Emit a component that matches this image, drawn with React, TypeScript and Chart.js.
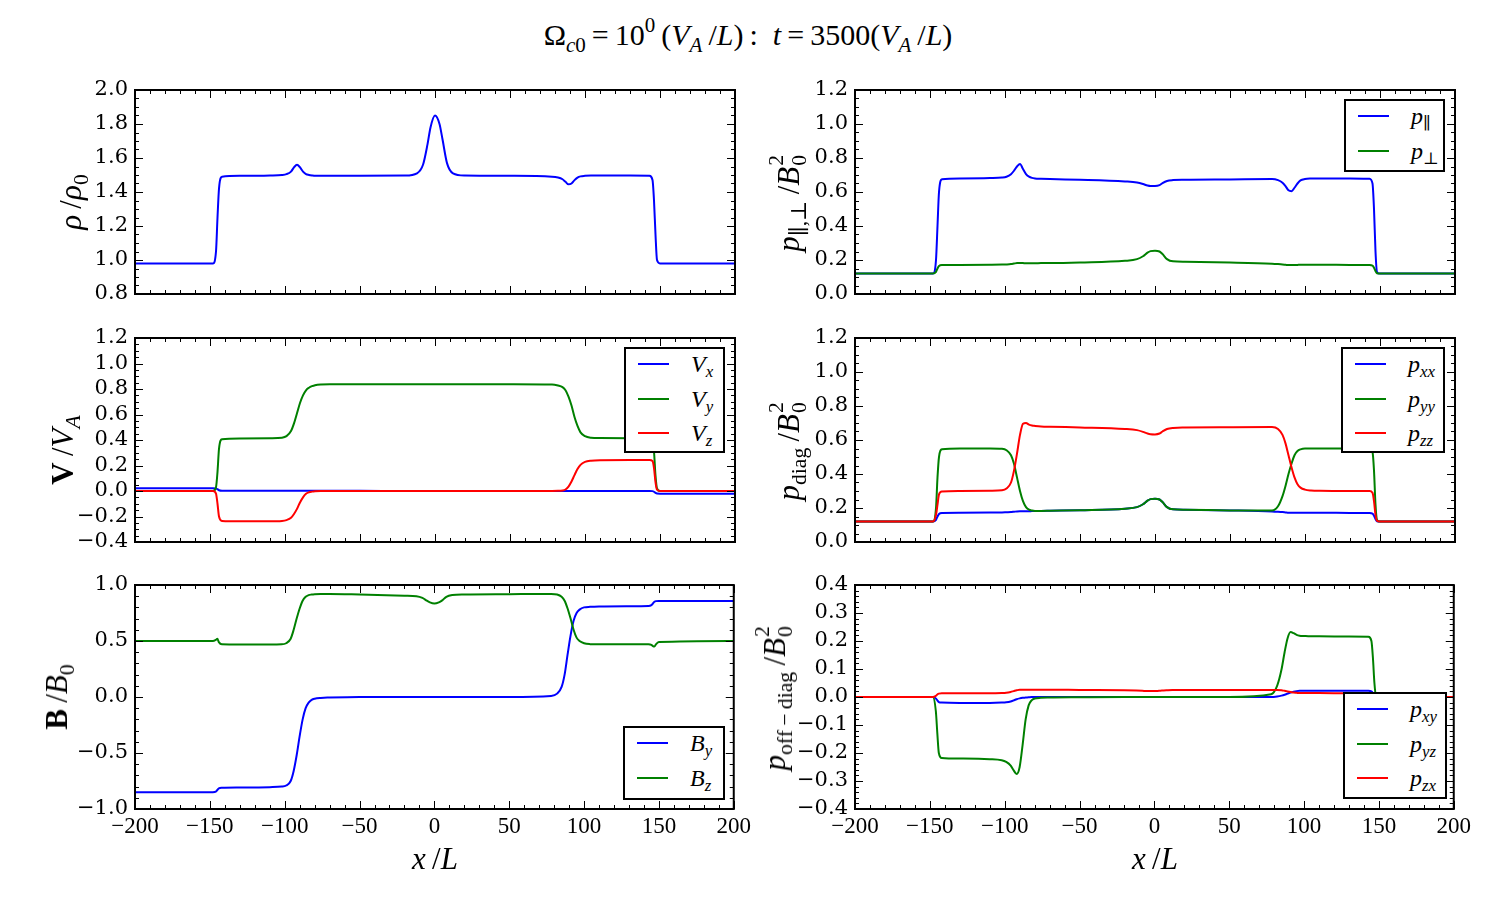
import React, { useEffect, useRef } from 'react';
import { Chart, registerables } from 'chart.js';

Chart.register(...registerables);

// x/L sample positions (shared by every series)
const X = [
  -200, -148, -146, -145, -144, -142,
  -130, -110, -102, -99, -96, -94, -92, -90,
  -88, -86, -84, -82, -80, -76, -70, -50,
  -20, -12, -8, -5, -3, 0, 3, 5, 8, 12, 20, 50,
  78, 82, 85, 87, 89, 91, 93, 95, 97, 100,
  104, 110, 130, 143, 145, 146, 147, 148, 150, 200,
];

const RHO = [
  0.98, 0.98, 1.05, 1.25, 1.42, 1.49,
  1.495, 1.497, 1.5, 1.505, 1.52, 1.545, 1.56, 1.545,
  1.52, 1.505, 1.5, 1.497, 1.495, 1.495, 1.495, 1.495,
  1.497, 1.51, 1.56, 1.68, 1.78, 1.85, 1.8, 1.71, 1.57, 1.51, 1.497, 1.495,
  1.49, 1.485, 1.475, 1.46, 1.445, 1.45, 1.47, 1.485, 1.492, 1.495,
  1.497, 1.497, 1.497, 1.495, 1.47, 1.35, 1.15, 1.0, 0.98, 0.98,
];

const VX = [
  0.021, 0.021, 0.02, 0.014, 0.006, 0.002,
  0.001, 0.001, 0.001, 0.001, 0.001, 0.001, 0.001, 0.001,
  0.001, 0.001, 0.001, 0.001, 0.001, 0.001, 0.001, 0.001,
  0, 0, 0, 0, 0, 0, 0, 0, 0, 0, 0, 0,
  0, 0, 0, 0, 0, 0, 0, 0, 0, 0,
  0, 0, 0, 0, -0.001, -0.006, -0.015, -0.02, -0.021, -0.021,
];

const VY = [
  0, 0, 0.03, 0.15, 0.33, 0.405,
  0.412, 0.414, 0.418, 0.43, 0.47, 0.53, 0.61, 0.69,
  0.75, 0.79, 0.81, 0.822, 0.83, 0.836, 0.838, 0.838,
  0.838, 0.838, 0.838, 0.838, 0.838, 0.838, 0.838, 0.838, 0.838, 0.838, 0.838, 0.837,
  0.835, 0.827, 0.815, 0.79, 0.74, 0.67, 0.58, 0.51, 0.46, 0.43,
  0.418, 0.415, 0.414, 0.413, 0.4, 0.31, 0.12, 0.02, 0, 0,
];

const VZ = [
  0, 0, -0.02, -0.1, -0.2, -0.235,
  -0.238, -0.238, -0.235, -0.228, -0.21, -0.18, -0.14, -0.09,
  -0.05, -0.022, -0.01, -0.005, -0.002, 0, 0, 0,
  0, 0, 0, 0, 0, 0, 0, 0, 0, 0, 0, 0,
  0, 0.001, 0.004, 0.012, 0.035, 0.075, 0.125, 0.172, 0.205, 0.228,
  0.238, 0.242, 0.243, 0.243, 0.235, 0.18, 0.07, 0.01, 0, 0,
];

const BY = [
  -0.85, -0.85, -0.845, -0.83, -0.815, -0.81,
  -0.808, -0.805, -0.8, -0.79, -0.75, -0.66, -0.52, -0.35,
  -0.2, -0.1, -0.05, -0.025, -0.015, -0.008, -0.005, 0,
  0, 0, 0, 0, 0, 0, 0, 0, 0, 0, 0, 0,
  0.01, 0.03, 0.09, 0.2, 0.38, 0.55, 0.68, 0.75, 0.78, 0.8,
  0.805, 0.808, 0.81, 0.812, 0.82, 0.835, 0.85, 0.856, 0.857, 0.857,
];

const BZ = [
  0.5, 0.5, 0.51, 0.52, 0.49, 0.47,
  0.468, 0.468, 0.47, 0.48, 0.52, 0.6, 0.7, 0.79,
  0.86, 0.895, 0.91, 0.915, 0.918, 0.92, 0.92, 0.915,
  0.905, 0.9, 0.885, 0.86, 0.845, 0.835, 0.845, 0.86, 0.895, 0.91, 0.915, 0.918,
  0.92, 0.915, 0.895, 0.86, 0.79, 0.7, 0.6, 0.53, 0.5, 0.48,
  0.472, 0.47, 0.47, 0.47, 0.465, 0.455, 0.45, 0.47, 0.49, 0.5,
];

const PPAR = [
  0.12, 0.12, 0.2, 0.4, 0.6, 0.675,
  0.68, 0.682, 0.685, 0.69, 0.705, 0.725, 0.75, 0.765,
  0.735, 0.705, 0.69, 0.683, 0.68, 0.678, 0.676, 0.672,
  0.662, 0.656, 0.647, 0.638, 0.635, 0.635, 0.64, 0.652, 0.665, 0.67, 0.672, 0.674,
  0.676, 0.67, 0.655, 0.635, 0.61, 0.605, 0.625, 0.65, 0.668, 0.676,
  0.679, 0.68, 0.68, 0.678, 0.65, 0.5, 0.25, 0.13, 0.12, 0.12,
];

const PPERP = [
  0.12, 0.12, 0.13, 0.15, 0.165, 0.17,
  0.171, 0.172, 0.173, 0.174, 0.176, 0.179, 0.182, 0.183,
  0.182, 0.181, 0.181, 0.181, 0.181, 0.182, 0.182, 0.185,
  0.195, 0.205, 0.222, 0.243, 0.252, 0.255, 0.25, 0.235, 0.205, 0.192, 0.19, 0.185,
  0.178, 0.176, 0.174, 0.172, 0.17, 0.17, 0.17, 0.171, 0.172, 0.172,
  0.172, 0.172, 0.171, 0.17, 0.167, 0.155, 0.135, 0.122, 0.12, 0.12,
];

const PXX = [
  0.12, 0.12, 0.13, 0.15, 0.165, 0.171,
  0.172, 0.173, 0.174, 0.175, 0.176, 0.178, 0.18, 0.181,
  0.181, 0.181, 0.181, 0.182, 0.182, 0.183, 0.184, 0.187,
  0.196, 0.205, 0.222, 0.243, 0.252, 0.255, 0.25, 0.235, 0.205, 0.192, 0.19, 0.186,
  0.18, 0.178, 0.176, 0.174, 0.172, 0.172, 0.172, 0.172, 0.172, 0.172,
  0.172, 0.172, 0.171, 0.17, 0.167, 0.155, 0.135, 0.122, 0.12, 0.12,
];

const PYY = [
  0.12, 0.12, 0.2, 0.38, 0.5, 0.545,
  0.55, 0.55, 0.548, 0.54, 0.51, 0.46, 0.38, 0.3,
  0.24, 0.205, 0.19, 0.185, 0.183, 0.183, 0.184, 0.187,
  0.196, 0.205, 0.222, 0.243, 0.252, 0.255, 0.25, 0.235, 0.205, 0.192, 0.19, 0.186,
  0.185, 0.21, 0.27, 0.33, 0.4, 0.46, 0.51, 0.535, 0.545, 0.55,
  0.55, 0.55, 0.55, 0.55, 0.53, 0.42, 0.22, 0.13, 0.12, 0.12,
];

const PZZ = [
  0.12, 0.12, 0.16, 0.22, 0.28, 0.297,
  0.3, 0.302, 0.305, 0.315, 0.35, 0.42, 0.52, 0.63,
  0.695, 0.7, 0.69, 0.685, 0.683, 0.68, 0.678, 0.674,
  0.665, 0.658, 0.648, 0.638, 0.634, 0.633, 0.638, 0.65, 0.665, 0.671, 0.673, 0.675,
  0.676, 0.665, 0.63, 0.58, 0.51, 0.44, 0.38, 0.34, 0.32, 0.308,
  0.303, 0.301, 0.3, 0.3, 0.29, 0.24, 0.16, 0.125, 0.12, 0.12,
];

const PXY = [
  0, 0, -0.005, -0.012, -0.018, -0.02,
  -0.021, -0.021, -0.02, -0.019, -0.016, -0.012, -0.008, -0.005,
  -0.003, -0.002, -0.001, 0, 0, 0, 0, 0,
  0, 0, 0, 0, 0, 0, 0, 0, 0, 0, 0, 0,
  0, 0.002, 0.005, 0.008, 0.012, 0.016, 0.019, 0.021, 0.022, 0.022,
  0.022, 0.022, 0.022, 0.022, 0.02, 0.014, 0.006, 0.001, 0, 0,
];

const PYZ = [
  0, 0, -0.05, -0.13, -0.2, -0.218,
  -0.22, -0.222, -0.226, -0.232, -0.245, -0.262, -0.275, -0.25,
  -0.17, -0.08, -0.03, -0.012, -0.006, -0.003, -0.002, -0.001,
  0, 0, 0, 0, 0, 0, 0, 0, 0, 0, 0, 0,
  0.01, 0.04, 0.1, 0.16, 0.21, 0.232, 0.228, 0.222, 0.219, 0.218,
  0.217, 0.217, 0.216, 0.215, 0.2, 0.14, 0.05, 0.005, 0, 0,
];

const PZX = [
  0, 0, 0.004, 0.009, 0.012, 0.013,
  0.013, 0.013, 0.014, 0.015, 0.018, 0.021, 0.024, 0.026,
  0.026, 0.026, 0.026, 0.026, 0.026, 0.026, 0.026, 0.025,
  0.024, 0.023, 0.022, 0.021, 0.021, 0.021, 0.022, 0.023, 0.024, 0.025, 0.025, 0.025,
  0.025, 0.025, 0.024, 0.022, 0.02, 0.018, 0.016, 0.015, 0.014, 0.014,
  0.014, 0.014, 0.013, 0.013, 0.012, 0.008, 0.003, 0, 0, 0,
];

const X_TICKS = { min: -200, max: 200, major: 50, minor: 10 };

const BLUE = '#0000ff';
const GREEN = '#008000';
const RED = '#ff0000';

const MATH = "'Liberation Serif', 'DejaVu Serif', serif";

function fmt(v: number, d: number) {
  let r = Math.round(v * 1e6) / 1e6;
  if (Math.abs(r) < 1e-9) r = 0;
  const s = Math.abs(r).toFixed(d);
  return r < 0 ? '\u2212' + s : s;
}

const framePlugin = {
  id: 'frame',
  afterDatasetsDraw(chart: any, _args: any, opts: any) {
    const { ctx, chartArea: ca, scales } = chart;
    const xs = scales.x;
    const ys = scales.y;
    ctx.save();
    ctx.strokeStyle = '#000';
    ctx.lineWidth = 1;
    ctx.beginPath();
    const nx = Math.round((xs.max - xs.min) / opts.xMinor);
    for (let i = 0; i <= nx; i++) {
      const v = xs.min + i * opts.xMinor;
      const q = (v - xs.min) / opts.xMajor;
      const len = Math.abs(q - Math.round(q)) < 1e-6 ? 8 : 4;
      const px = Math.round(xs.getPixelForValue(v)) + 0.5;
      ctx.moveTo(px, ca.bottom);
      ctx.lineTo(px, ca.bottom - len);
      ctx.moveTo(px, ca.top);
      ctx.lineTo(px, ca.top + len);
    }
    const ny = Math.round((ys.max - ys.min) / opts.yMinor);
    for (let i = 0; i <= ny; i++) {
      const v = ys.min + i * opts.yMinor;
      const q = (v - ys.min) / opts.yMajor;
      const len = Math.abs(q - Math.round(q)) < 1e-6 ? 8 : 4;
      const py = Math.round(ys.getPixelForValue(v)) + 0.5;
      ctx.moveTo(ca.left, py);
      ctx.lineTo(ca.left + len, py);
      ctx.moveTo(ca.right, py);
      ctx.lineTo(ca.right - len, py);
    }
    ctx.stroke();
    ctx.lineWidth = 2;
    ctx.strokeRect(ca.left, ca.top, ca.right - ca.left, ca.bottom - ca.top);
    ctx.restore();
  },
};

type Series = { data: number[]; color: string };
type PanelProps = {
  area: number[];
  yMin: number;
  yMax: number;
  yStep: number;
  yMinor: number;
  series: Series[];
  showX: boolean;
};

function Panel({ area, yMin, yMax, yStep, yMinor, series, showX }: PanelProps) {
  const ref = useRef<HTMLCanvasElement | null>(null);
  const [l, t, r, b] = area;
  const padL = 90;
  const padT = 20;
  const padR = 20;
  const padB = showX ? 45 : 20;
  const w = r - l + padL + padR;
  const h = b - t + padT + padB;
  useEffect(() => {
    if (!ref.current) return;
    const n = series.length;
    const chart = new Chart(ref.current, {
      type: 'line',
      data: {
        datasets: series.map((s, i) => ({
          data: X.map((x, k) => ({ x, y: s.data[k] })),
          borderColor: s.color,
          backgroundColor: s.color,
          borderWidth: 2,
          pointRadius: 0,
          cubicInterpolationMode: 'monotone',
          fill: false,
          order: n - 1 - i,
        })),
      },
      options: {
        animation: false,
        responsive: false,
        devicePixelRatio: 1,
        events: [],
        layout: { padding: { left: 0, top: padT, right: padR, bottom: showX ? 0 : padB } },
        plugins: {
          legend: { display: false },
          tooltip: { enabled: false },
          frame: { xMajor: X_TICKS.major, xMinor: X_TICKS.minor, yMajor: yStep, yMinor },
        } as any,
        scales: {
          x: {
            type: 'linear',
            min: X_TICKS.min,
            max: X_TICKS.max,
            display: showX,
            grid: { display: false, drawTicks: false },
            border: { display: false },
            ticks: {
              stepSize: X_TICKS.major,
              color: '#000',
              padding: 4,
              maxRotation: 0,
              autoSkip: false,
              font: { family: "'Liberation Serif'", size: 23 },
              callback: (v: any) => fmt(Number(v), 0),
            },
            afterFit: (s: any) => {
              s.height = padB;
            },
          },
          y: {
            type: 'linear',
            min: yMin,
            max: yMax,
            grid: { display: false, drawTicks: false },
            border: { display: false },
            ticks: {
              stepSize: yStep,
              color: '#000',
              padding: 7,
              autoSkip: false,
              font: { family: "'DejaVu Serif'", size: 21 },
              callback: (v: any) => fmt(Number(v), 1),
            },
            afterFit: (s: any) => {
              s.width = padL;
            },
          },
        },
      } as any,
      plugins: [framePlugin],
    });
    return () => chart.destroy();
  }, []);
  return (
    <canvas
      ref={ref}
      width={w}
      height={h}
      style={{ position: 'absolute', left: l - padL, top: t - padT, width: w, height: h }}
    />
  );
}

const Sub = ({ children }: any) => (
  <span style={{ fontSize: '0.7em', position: 'relative', top: '0.32em', lineHeight: 0 }}>{children}</span>
);
const Sup = ({ children }: any) => (
  <span style={{ fontSize: '0.7em', position: 'relative', top: '-0.62em', lineHeight: 0 }}>{children}</span>
);
const SubSup = ({ sub, sup }: any) => (
  <span
    style={{
      display: 'inline-block',
      position: 'relative',
      fontSize: '0.7em',
      width: '0.62em',
      height: '1em',
      lineHeight: 1,
      marginLeft: '0.05em',
    }}
  >
    <span style={{ position: 'absolute', left: 0, top: '-0.5em' }}>{sup}</span>
    <span style={{ position: 'absolute', left: 0, top: '0.55em' }}>{sub}</span>
  </span>
);

function Legend({ box, items }: { box: number[]; items: { color: string; label: any }[] }) {
  const [left, top, width, height] = box;
  return (
    <div
      style={{
        position: 'absolute',
        left,
        top,
        width,
        height,
        boxSizing: 'border-box',
        border: '2px solid #000',
        background: '#fff',
        fontFamily: MATH,
      }}
    >
      {items.map((it, i) => {
        const cy = 17 + i * 34.5 - 2;
        return (
          <React.Fragment key={i}>
            <div style={{ position: 'absolute', left: 12, top: cy - 1, width: 31, height: 2, background: it.color }} />
            <div
              style={{
                position: 'absolute',
                left: 65,
                top: cy - 12,
                height: 24,
                fontSize: 24,
                lineHeight: '24px',
                whiteSpace: 'nowrap',
              }}
            >
              {it.label}
            </div>
          </React.Fragment>
        );
      })}
    </div>
  );
}

function YLabel({ cx, cy, children }: any) {
  return (
    <div
      style={{
        position: 'absolute',
        left: cx,
        top: cy,
        transform: 'translate(-50%, -50%) rotate(-90deg)',
        fontFamily: MATH,
        fontSize: 31,
        lineHeight: '32px',
        whiteSpace: 'nowrap',
      }}
    >
      {children}
    </div>
  );
}

const LEFT = [135, 735];
const RIGHT = [855, 1455];
const ROWS = [
  [90, 314],
  [338, 562],
  [585, 809],
];

const B02 = <SubSup sub="0" sup="2" />;

export default function App() {
  useEffect(() => {
    document.body.style.margin = '0';
    document.body.style.background = '#fff';
  }, []);
  const area = (col: number[], row: number[]) => [col[0], row[0], col[1], row[1]];
  return (
    <div style={{ position: 'absolute', left: 0, top: 0, width: 1500, height: 900, background: '#fff', overflow: 'hidden' }}>
      <div
        style={{
          position: 'absolute',
          left: -2,
          top: 18,
          width: 1500,
          textAlign: 'center',
          fontFamily: MATH,
          fontSize: 30,
          lineHeight: '34px',
          whiteSpace: 'nowrap',
        }}
      >
        Ω<Sub>
          <i>c</i>0
        </Sub>
        {'\u2009'}={'\u2009'}10<Sup>0</Sup>
        {'\u2009'}(<i>V</i>
        <Sub>
          <i>A</i>
        </Sub>
        {'\u2009'}/<i>L</i>){'\u2009'}:{'\u2002'}
        <i>t</i>
        {'\u2009'}={'\u2009'}3500(<i>V</i>
        <Sub>
          <i>A</i>
        </Sub>
        {'\u2009'}/<i>L</i>)
      </div>

      <Panel area={area(LEFT, ROWS[0])} yMin={0.8} yMax={2.0} yStep={0.2} yMinor={0.05} showX={false} series={[{ data: RHO, color: BLUE }]} />
      <Panel
        area={area(LEFT, ROWS[1])}
        yMin={-0.4}
        yMax={1.2}
        yStep={0.2}
        yMinor={0.05}
        showX={false}
        series={[
          { data: VX, color: BLUE },
          { data: VY, color: GREEN },
          { data: VZ, color: RED },
        ]}
      />
      <Panel
        area={area(LEFT, ROWS[2])}
        yMin={-1.0}
        yMax={1.0}
        yStep={0.5}
        yMinor={0.1}
        showX={true}
        series={[
          { data: BY, color: BLUE },
          { data: BZ, color: GREEN },
        ]}
      />
      <Panel
        area={area(RIGHT, ROWS[0])}
        yMin={0}
        yMax={1.2}
        yStep={0.2}
        yMinor={0.05}
        showX={false}
        series={[
          { data: PPAR, color: BLUE },
          { data: PPERP, color: GREEN },
        ]}
      />
      <Panel
        area={area(RIGHT, ROWS[1])}
        yMin={0}
        yMax={1.2}
        yStep={0.2}
        yMinor={0.05}
        showX={false}
        series={[
          { data: PXX, color: BLUE },
          { data: PYY, color: GREEN },
          { data: PZZ, color: RED },
        ]}
      />
      <Panel
        area={area(RIGHT, ROWS[2])}
        yMin={-0.4}
        yMax={0.4}
        yStep={0.1}
        yMinor={0.02}
        showX={true}
        series={[
          { data: PXY, color: BLUE },
          { data: PYZ, color: GREEN },
          { data: PZX, color: RED },
        ]}
      />

      <Legend
        box={[624, 347, 101, 106]}
        items={[
          { color: BLUE, label: <><i>V</i><Sub><i>x</i></Sub></> },
          { color: GREEN, label: <><i>V</i><Sub><i>y</i></Sub></> },
          { color: RED, label: <><i>V</i><Sub><i>z</i></Sub></> },
        ]}
      />
      <Legend
        box={[623, 726, 102, 74]}
        items={[
          { color: BLUE, label: <><i>B</i><Sub><i>y</i></Sub></> },
          { color: GREEN, label: <><i>B</i><Sub><i>z</i></Sub></> },
        ]}
      />
      <Legend
        box={[1344, 99, 101, 73]}
        items={[
          { color: BLUE, label: <><i>p</i><Sub>∥</Sub></> },
          { color: GREEN, label: <><i>p</i><Sub>⊥</Sub></> },
        ]}
      />
      <Legend
        box={[1341, 347, 104, 106]}
        items={[
          { color: BLUE, label: <><i>p</i><Sub><i>xx</i></Sub></> },
          { color: GREEN, label: <><i>p</i><Sub><i>yy</i></Sub></> },
          { color: RED, label: <><i>p</i><Sub><i>zz</i></Sub></> },
        ]}
      />
      <Legend
        box={[1343, 692, 104, 107]}
        items={[
          { color: BLUE, label: <><i>p</i><Sub><i>xy</i></Sub></> },
          { color: GREEN, label: <><i>p</i><Sub><i>yz</i></Sub></> },
          { color: RED, label: <><i>p</i><Sub><i>zx</i></Sub></> },
        ]}
      />

      <YLabel cx={71} cy={202}>
        <i>ρ</i>
        {'\u2009'}/<i>ρ</i>
        <Sub>0</Sub>
      </YLabel>
      <YLabel cx={63} cy={450}>
        <b>V</b>
        {'\u2009'}/<i>V</i>
        <Sub>
          <i>A</i>
        </Sub>
      </YLabel>
      <YLabel cx={57} cy={697}>
        <b>B</b>
        {'\u2009'}/<i>B</i>
        <Sub>0</Sub>
      </YLabel>
      <YLabel cx={789} cy={202}>
        <i>p</i>
        <Sub>∥,⊥</Sub>
        {'\u2009'}/<i>B</i>
        {B02}
      </YLabel>
      <YLabel cx={789} cy={450}>
        <i>p</i>
        <Sub>diag</Sub>
        {'\u2009'}/<i>B</i>
        {B02}
      </YLabel>
      <YLabel cx={775} cy={697}>
        <i>p</i>
        <Sub>off{'\u2009'}{'\u2212'}{'\u2009'}diag</Sub>
        {'\u2009'}/<i>B</i>
        {B02}
      </YLabel>

      <div style={{ position: 'absolute', left: 385, width: 100, top: 842, textAlign: 'center', fontFamily: MATH, fontSize: 31, lineHeight: '34px' }}>
        <i>x</i>
        {'\u2009'}/<i>L</i>
      </div>
      <div style={{ position: 'absolute', left: 1105, width: 100, top: 842, textAlign: 'center', fontFamily: MATH, fontSize: 31, lineHeight: '34px' }}>
        <i>x</i>
        {'\u2009'}/<i>L</i>
      </div>
    </div>
  );
}
